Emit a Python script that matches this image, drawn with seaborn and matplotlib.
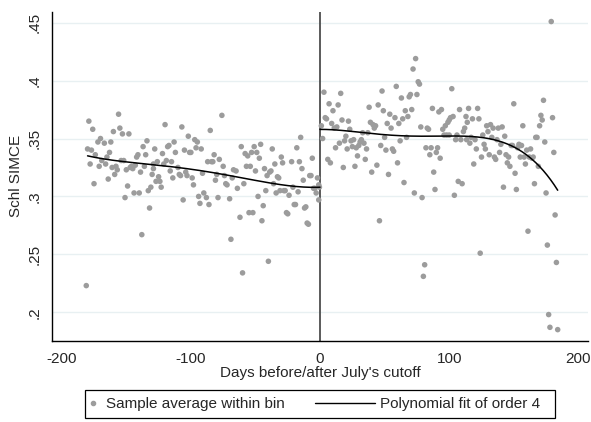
import numpy as np
import pandas as pd
import matplotlib
matplotlib.use("Agg")
import matplotlib.pyplot as plt
import seaborn as sns
from matplotlib.lines import Line2D
from matplotlib.patches import Rectangle

# Promedios por bin (dias antes/despues del corte de julio)
left_days = [-181, -179, -176, -180, -177, -178, -175, -174, -172, -170, -171, -169, -167, -166, -165, -164,
             -163, -162, -161, -160, -159, -158, -157, -156, -155, -153, -154, -152, -151, -150, -149, -148,
             -147, -146, -144, -145, -143, -142, -141, -140, -139, -138, -137, -136, -135, -134, -133, -132,
             -131, -130, -129, -128, -129, -127, -125, -124, -123, -126, -122, -121, -120, -119, -118, -117,
             -116, -115, -114, -113, -112, -110, -109, -108, -107, -106, -105, -104, -103, -102, -101, -100,
             -99, -98, -97, -96, -95, -94, -93, -92, -91, -90, -88, -87, -86, -85, -84, -83, -82, -80, -81, -79,
             -76, -78, -75, -74, -73, -72, -70, -69, -68, -67, -65, -64, -62, -61, -60, -59, -58, -57, -56, -55,
             -54, -53, -52, -51, -50, -49, -48, -47, -46, -45, -44, -43, -42, -41, -40, -39, -38, -37, -36, -35,
             -34, -33, -32, -31, -30, -29, -28, -27, -26,
             -25, -24, -22, -21, -20, -19, -18, -17, -16, -15, -14, -13, -12, -11, -10, -9, -8, -7, -6, -5,
             -4, -3, -2, -1, -1, -0.5]
left_vals = [.223, .365, .358, .341, .340, .328, .311, .336, .347, .350, .326, .331, .346, .328, .334, .315,
             .338, .347, .325, .356, .319, .326, .323, .371, .359, .354, .331, .331, .299, .323, .309, .354,
             .325, .326, .303, .324, .327, .334, .336, .303, .321, .267, .343, .326, .336, .348, .305, .290,
             .308, .319, .324, .341, .328, .313, .317, .313, .308, .330, .337, .328, .362, .331, .343, .344,
             .322, .330, .316, .347, .338, .325, .319, .318, .360, .297, .340, .321, .318, .352, .338, .338,
             .316, .310, .349, .342, .347, .300, .294, .341, .320, .303, .299, .330, .293, .357, .330, .330, .336, .319, .314, .299,
             .370, .332, .326, .318, .311, .310, .298, .263, .316, .323, .322, .307, .282, .343, .234, .311, .337, .326, .335, .286,
             .326, .338, .286, .343, .322, .338, .300, .333, .345, .279, .292, .324, .305, .318, .244, .321, .322, .341, .311, .328,
             .303, .317, .316, .305, .334, .329, .305, .305, .286,
             .285, .301, .330, .308, .293, .293, .342, .304, .330, .351, .324, .314, .290, .291, .277, .276, .318, .318, .333, .307,
             .307, .303, .316, .310, .297, .308]

right_days = [1, 2, 3, 4, 5, 6, 7, 8, 9, 10, 11, 12, 13, 14, 15, 16, 17, 18, 19, 20, 21, 22, 23, 24, 25, 26, 27, 28,
              29, 30, 31, 32, 33, 34, 35, 36, 37, 38, 39, 40, 41, 42, 43, 44, 45, 46, 47, 48, 49, 50, 51, 52, 53,
              54, 55, 56, 57, 58, 59, 60, 61, 62, 63, 64, 65, 66, 67, 68, 69, 70, 71, 72, 73, 74, 75, 76, 77, 78,
              79, 80, 81, 82, 83, 84, 85, 86, 87, 88, 89, 90, 91, 92, 93, 94, 95, 96, 97, 98, 99, 100, 100, 101,
              102, 103, 104, 105,
              106, 107, 108, 109, 110, 111, 112, 113, 113.5, 114, 115, 116, 117, 118, 119, 120, 121, 122, 123, 124,
              125, 126, 127, 128, 129, 130, 131, 132, 133, 134, 135, 136, 137, 138, 139, 140, 141, 142, 143, 144,
              145, 146, 147, 148, 149, 150, 151, 152, 153, 154, 155, 156, 157, 158, 159, 160, 161, 162, 163, 164,
              165, 166, 167, 168, 169, 170, 171, 172, 173, 174, 175, 176, 177, 178, 179, 180, 181, 182, 183, 184]
right_vals = [.361, .350, .390, .368, .367, .332, .380, .329, .363, .374, .359, .342, .360, .379, .346, .389, .366,
              .325, .348, .352, .341, .365, .358, .348, .343, .349, .326, .342, .335, .344, .347, .349, .355, .346,
              .332, .341, .355, .377, .364, .321, .362, .359, .361, .327, .379, .279, .344, .391, .374, .351, .340,
              .363, .319, .371, .359, .341, .339, .368, .395, .329, .363, .348, .385, .367, .312, .374, .351, .369,
              .386, .388, .375, .410, .303, .419, .388, .399, .397, .360, .299, .231, .241, .342, .359, .358, .336,
              .342, .376, .321, .306, .338, .342, .373, .333, .375, .358, .353, .361, .353, .364, .353, .366, .368,
              .393, .369, .301, .349,
              .353, .313, .375, .349, .311, .356, .359, .369, .349, .364, .376, .346, .351, .367, .328, .349, .341,
              .376, .367, .251, .334, .353, .345, .341, .361, .356, .336, .362, .351, .359, .334, .332, .349, .359,
              .338, .345, .360, .308, .352, .336, .329, .334, .326, .344, .344, .380, .320, .306, .342, .345, .334,
              .344, .361, .334, .328, .340, .270, .334, .341, .333, .334, .311, .351, .351, .326, .361, .370, .366,
              .383, .347, .303, .258, .198, .187, .451, .368, .338, .284, .243, .185]

# Valores de la curva ajustada (ajuste hecho sobre microdatos)
fit_left_days = [-180, -150, -120, -90, -60, -30, 0]
fit_left_vals = [.335, .330, .326, .322, .316, .310, .308]
fit_right_days = [0, 30, 65, 105, 120, 135, 150, 164, 175, 184]
fit_right_vals = [.358, .355, .353, .352, .351, .349, .343, .332, .320, .305]

x_ticks = [-200, -100, 0, 100, 200]
y_ticks = [.2, .25, .3, .35, .4, .45]
y_tick_labels = [".2", ".25", ".3", ".35", ".4", ".45"]

sns.set_style("white")
plt.rcParams['font.family'] = ['Liberation Sans', 'DejaVu Sans']
plt.rcParams['axes.unicode_minus'] = False

df = pd.DataFrame({'dias': left_days + right_days, 'simce': left_vals + right_vals})

# Polinomio de orden 4 a cada lado del corte
def poly_fit(days, vals):
    coef = np.polyfit(days, vals, 4)
    xs = np.linspace(min(days), max(days), 200)
    return pd.DataFrame({'dias': xs, 'simce': np.polyval(coef, xs)})

fit_left = poly_fit(fit_left_days, fit_left_vals)
fit_right = poly_fit(fit_right_days, fit_right_vals)

fig = plt.figure(figsize=(5.91, 4.22), dpi=100)
ax = fig.add_axes([0.0885, 0.192, 0.9065, 0.780])

sns.scatterplot(data=df, x='dias', y='simce', ax=ax, color='#9c9c9c', s=16, edgecolor='none', zorder=3)
sns.lineplot(data=fit_left, x='dias', y='simce', ax=ax, color='black', lw=1.1, zorder=4)
sns.lineplot(data=fit_right, x='dias', y='simce', ax=ax, color='black', lw=1.1, zorder=4)
ax.axvline(0, color='#4d4d4d', lw=1.3, zorder=2)

ax.set_xlim(-207.3, 207.5)
ax.set_ylim(0.1752, 0.4594)
ax.set_xticks(x_ticks)
ax.set_xticklabels([str(t) for t in x_ticks])
ax.set_yticks(y_ticks)
ax.set_yticklabels(y_tick_labels, rotation=90, va='center')
ax.grid(axis='y', color='#e8f0f2', lw=1)
ax.set_axisbelow(True)
for s in ['top', 'right']:
    ax.spines[s].set_visible(False)
for s in ['left', 'bottom']:
    ax.spines[s].set_color('black')
    ax.spines[s].set_linewidth(1)
ax.tick_params(axis='both', direction='out', length=5, width=1, labelsize=11, color='black', pad=3)
ax.set_xlabel("Days before/after July's cutoff", fontsize=11, labelpad=0)
ax.set_ylabel("Schl SIMCE", fontsize=11, labelpad=3)

# Leyenda abajo con marco (dos bloques dentro de un rectangulo)
fig.add_artist(Rectangle((85 / 591, 4 / 422), 470 / 591, 28 / 422, transform=fig.transFigure,
                         fill=False, lw=0.9, ec='black'))
leg1 = fig.legend([Line2D([], [], marker='o', color='#9c9c9c', lw=0, markersize=3)],
                  ['Sample average within bin'], loc='center left', bbox_to_anchor=(87 / 591, 18 / 422),
                  frameon=False, fontsize=11, handlelength=0.8, handletextpad=0.45, borderpad=0,
                  borderaxespad=0)
leg2 = fig.legend([Line2D([], [], color='black', lw=1)],
                  ['Polynomial fit of order 4'], loc='center left', bbox_to_anchor=(315 / 591, 18 / 422),
                  frameon=False, fontsize=11, handlelength=3.9, handletextpad=0.33, borderpad=0,
                  borderaxespad=0)

fig.savefig('out.png', dpi=100)
